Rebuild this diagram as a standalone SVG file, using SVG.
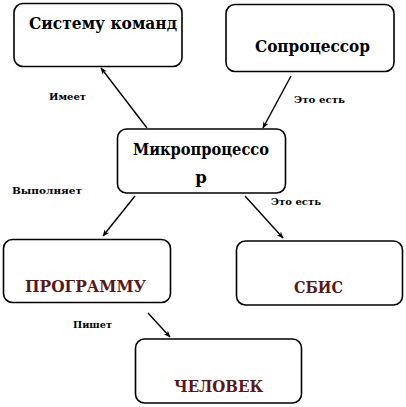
<svg xmlns="http://www.w3.org/2000/svg" width="406" height="407" viewBox="0 0 406 407">
<defs>
<style>
.box{fill:#fff;stroke:#000;stroke-width:1.6}
.t{font-family:'DejaVu Serif',serif;font-weight:700;font-size:16.5px;fill:#000;text-anchor:middle}
.r{fill:#5a1818}
.l{font-family:'DejaVu Serif',serif;font-weight:700;font-size:9.5px;fill:#000}
.c{stroke:#000;stroke-width:1.4;fill:none;marker-end:url(#a)}
</style>
<marker id="a" viewBox="0 0 10 10" refX="9" refY="5" markerWidth="7" markerHeight="7" markerUnits="userSpaceOnUse" orient="auto">
<path d="M0,1 L10,5 L0,9 L3,5 Z" fill="#000"/>
</marker>
</defs>
<rect width="406" height="407" fill="#fff"/>
<g id="n1"><rect class="box" x="14" y="3.5" width="168" height="63" rx="9"/><text class="t" x="103" y="29" textLength="148" lengthAdjust="spacingAndGlyphs">Систему команд</text></g>
<g id="n2"><rect class="box" x="226" y="4.5" width="168" height="67" rx="9"/><text class="t" x="312.5" y="52" textLength="115" lengthAdjust="spacingAndGlyphs">Сопроцессор</text></g>
<g id="n3"><rect class="box" x="117.5" y="129" width="168" height="64" rx="9"/><text class="t" x="201" y="155" textLength="136" lengthAdjust="spacingAndGlyphs">Микропроцессо</text><text class="t" x="201" y="183">р</text></g>
<g id="n4"><rect class="box" x="3.5" y="239.5" width="167" height="63" rx="9"/><text class="t r" x="85.5" y="292" textLength="121" lengthAdjust="spacingAndGlyphs">ПРОГРАММУ</text></g>
<g id="n5"><rect class="box" x="236.5" y="241" width="166" height="64" rx="9"/><text class="t r" x="318.5" y="293" textLength="49" lengthAdjust="spacingAndGlyphs">СБИС</text></g>
<g id="n6"><rect class="box" x="135.5" y="339" width="166" height="64" rx="9"/><text class="t r" x="218.5" y="392" textLength="89" lengthAdjust="spacingAndGlyphs">ЧЕЛОВЕК</text></g>
<g id="connectors">
<line class="c" x1="147" y1="128" x2="101" y2="68"/>
<line class="c" x1="291" y1="76" x2="263" y2="128"/>
<line class="c" x1="135" y1="196" x2="103" y2="236"/>
<line class="c" x1="245" y1="196" x2="283" y2="238"/>
<line class="c" x1="148" y1="313" x2="170" y2="337"/>
</g>
<g id="labels">
<text class="l" x="49" y="100" textLength="37" lengthAdjust="spacingAndGlyphs">Имеет</text>
<text class="l" x="294" y="103" textLength="51" lengthAdjust="spacingAndGlyphs">Это есть</text>
<text class="l" x="12" y="194" textLength="70" lengthAdjust="spacingAndGlyphs">Выполняет</text>
<text class="l" x="271" y="205" textLength="50" lengthAdjust="spacingAndGlyphs">Это есть</text>
<text class="l" x="73" y="328" textLength="39" lengthAdjust="spacingAndGlyphs">Пишет</text>
</g>
</svg>
